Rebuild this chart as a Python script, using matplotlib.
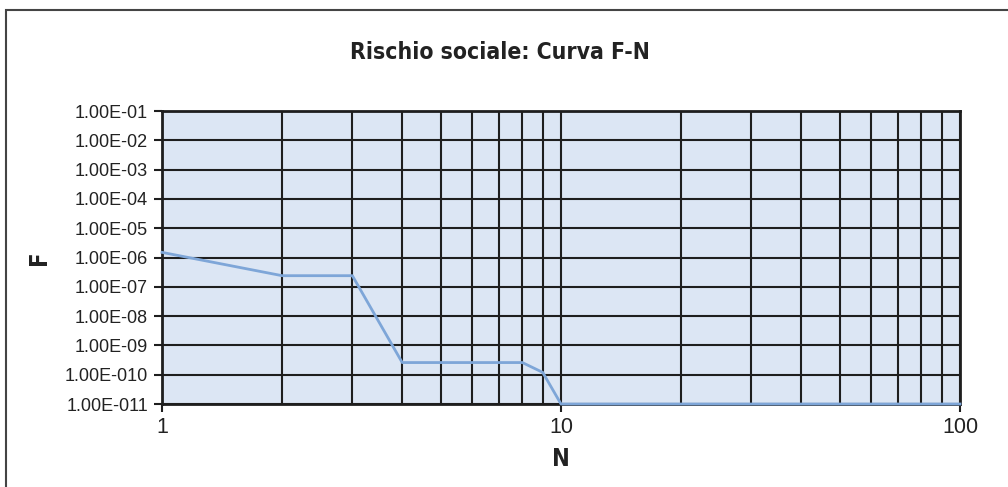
import matplotlib.pyplot as plt
from matplotlib.patches import Rectangle
from matplotlib.ticker import FixedLocator, NullFormatter, NullLocator

# F-N curve data
n_values = [1, 2, 3, 4, 5, 6, 7, 8, 9, 10, 100]
f_values = [1.5e-6, 2.4e-7, 2.4e-7, 2.6e-10, 2.6e-10, 2.6e-10, 2.6e-10, 2.6e-10,
            1.2e-10, 1e-11, 1e-11]

y_ticks = [10.0 ** -k for k in range(1, 12)]
y_labels = ["1.00E-%02d" % k if k < 10 else "1.00E-0%d" % k for k in range(1, 12)]
x_ticks = [1, 10, 100]
x_labels = ["1", "10", "100"]

label_font = ['Liberation Sans', 'DejaVu Sans']
title_font = ['DejaVu Sans']

fig = plt.figure(figsize=(10.08, 4.87), dpi=100)
ax = fig.add_axes([0.1607, 0.1704, 0.7917, 0.6016])
ax.set_facecolor('#dce6f4')

ax.plot(n_values, f_values, color='#7ea6d8', linewidth=2.0, zorder=3,
        solid_joinstyle='round', clip_on=False)

ax.set_xscale('log')
ax.set_yscale('log')
ax.set_xlim(1, 100)
ax.set_ylim(1e-11, 1e-1)

# grid: decades on y, every integer on x
minor_x = [v * d for d in (1, 10) for v in range(2, 10)]
ax.xaxis.set_minor_locator(FixedLocator(minor_x))
ax.xaxis.set_minor_formatter(NullFormatter())
ax.yaxis.set_minor_locator(NullLocator())
ax.set_xticks(x_ticks)
ax.set_xticklabels(x_labels, family=label_font, fontsize=15.5, color='#222222')
ax.set_yticks(y_ticks)
ax.set_yticklabels(y_labels, family=label_font, fontsize=13, color='#222222')

ax.grid(True, which='major', color='#1e1e1e', linewidth=1.5, zorder=1)
ax.grid(True, which='minor', axis='x', color='#1e1e1e', linewidth=1.5, zorder=1)
ax.set_axisbelow(True)

ax.tick_params(axis='y', which='major', direction='out', length=6, width=1.5,
               color='#1e1e1e', pad=4)
ax.tick_params(axis='x', which='major', direction='out', length=6, width=1.5,
               color='#1e1e1e', pad=3)
ax.tick_params(axis='x', which='minor', length=0)

for side in ('left', 'bottom', 'top', 'right'):
    ax.spines[side].set_color('#1e1e1e')
    ax.spines[side].set_linewidth(2.0)

ax.set_xlabel('N', family=title_font, fontstretch='condensed', fontsize=17,
              fontweight='bold', color='#222222', labelpad=7)
ax.set_ylabel('F', family=title_font, fontstretch='condensed', fontsize=17,
              fontweight='bold', color='#222222', labelpad=10)

fig.text(0.496, 0.893, 'Rischio sociale: Curva F-N', family=title_font,
         fontstretch='condensed', fontsize=16.5, fontweight='bold',
         color='#222222', ha='center', va='center')

# frame around the chart area
fig.patches.append(Rectangle((6 / 1008, -0.05), 1.1, 0.05 + 1 - 10 / 487,
                             transform=fig.transFigure, fill=False,
                             edgecolor='#444444', linewidth=1.5))

fig.savefig('out.png', dpi=100)
